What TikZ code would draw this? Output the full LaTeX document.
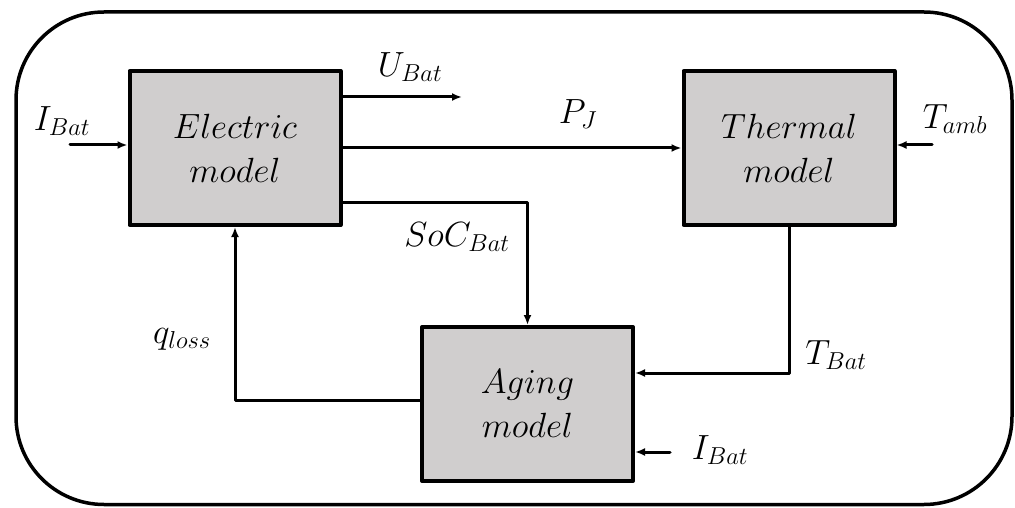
\documentclass[tikz,border=0pt]{standalone}
\usepackage{fix-cm}
\usepackage{amssymb,amsfonts,amsmath}
\usepackage{xcolor}
\usepackage{tikz}
\usetikzlibrary{arrows.meta,calc,positioning}
\definecolor{boxgray}{RGB}{208,206,206}
\tikzset{%
        block/.style = { draw, line width=4pt, fill=boxgray, minimum width=211pt, minimum height=154pt, align=center, font=\fontsize{35}{44}\selectfont },
       signal/.style = { line width=3pt, -{Latex[length=10pt,width=8pt]} },
     varlabel/.style = { font=\fontsize{35}{40}\selectfont, inner sep=0pt },
        frame/.style = { line width=3.5pt, rounded corners=88pt }
}

\begin{document}
\begin{tikzpicture}[x=1pt,y=1pt,line cap=round,line join=round]
\useasboundingbox (0,0) rectangle (1015,507);
\draw[frame] (16,2.5) rectangle (1012,495);
% blocks
\node[block] (elec)  at (235,359)   {$Electric$\\$model$};
\node[block] (therm) at (789,359)   {$Thermal$\\$model$};
\node[block] (aging) at (527.5,103) {$Aging$\\$model$};
% free ends
\coordinate (ibatin)  at (70,362);
\coordinate (ubatout) at (462,410);
\coordinate (tambin)  at (932,362);
\coordinate (ibatage) at (670,55);
% signals
\draw[signal] (ibatin) -- (ibatin -| elec.west);
\draw[signal] (ubatout -| elec.east) -- (ubatout);
\draw[signal] (elec.east) -- (therm.west);
\draw[signal] ([yshift=-55pt]elec.east) -| (aging.north);
\draw[signal] (tambin) -- (tambin -| therm.east);
\draw[signal] (therm.south) |- ([yshift=31pt]aging.east);
\draw[signal] (ibatage) -- (ibatage -| aging.east);
\draw[signal] ([yshift=4pt]aging.west) -| (elec.south);
% labels
\node[varlabel] (libat)   at (62,386)  {$I_{Bat}$};
\node[varlabel] (lubat)   at (410,440) {$U_{Bat}$};
\node[varlabel] (lpj)     at (578,393) {$P_J$};
\node[varlabel] (ltamb)   at (955,388) {$T_{amb}$};
\node[varlabel] (lsoc)    at (457,270) {$SoC_{Bat}$};
\node[varlabel] (ltbat)   at (836,152) {$T_{Bat}$};
\node[varlabel] (libatag) at (720,57)  {$I_{Bat}$};
\node[varlabel] (lqloss)  at (182,168) {$q_{loss}$};
\end{tikzpicture}
\end{document}
